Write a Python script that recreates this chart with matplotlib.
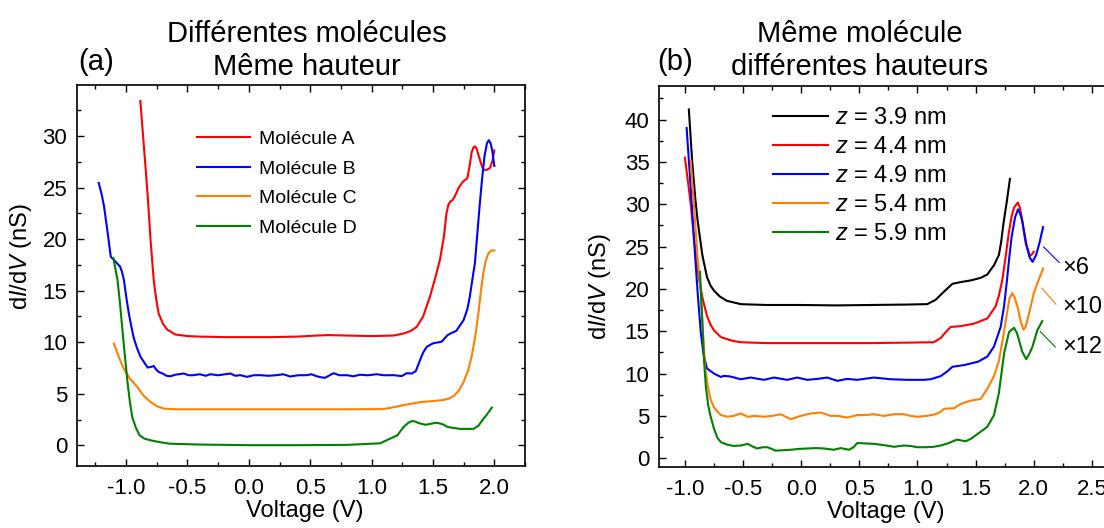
import matplotlib
matplotlib.use("Agg")
import matplotlib.pyplot as plt
from matplotlib.ticker import MultipleLocator, FormatStrFormatter

plt.rcParams['font.family'] = ['Liberation Sans', 'DejaVu Sans']
plt.rcParams['mathtext.fontset'] = 'custom'
plt.rcParams['mathtext.rm'] = 'Liberation Sans'
plt.rcParams['mathtext.it'] = 'Liberation Sans:italic'
plt.rcParams['axes.unicode_minus'] = False

# ---------------- (a) different molecules, same height ----------------
mol_labels = ["Molécule A", "Molécule B", "Molécule C", "Molécule D"]
mol_colors = ["#ff0000", "#0000ff", "#ff8000", "#008000"]

molA_v = [-0.884, -0.855, -0.824, -0.80, -0.775, -0.755, -0.735, -0.70, -0.667, -0.60,
          -0.50, -0.40, -0.20, 0.0, 0.20, 0.40, 0.55, 0.65, 0.80, 1.00, 1.18, 1.26,
          1.32, 1.368, 1.42, 1.475, 1.52, 1.557, 1.59, 1.61, 1.625, 1.638, 1.66, 1.68,
          1.71, 1.746, 1.78, 1.80, 1.815, 1.83, 1.842, 1.855, 1.87, 1.89, 1.91, 1.935,
          1.965, 1.985, 2.0]
molA_g = [33.4, 29.0, 24.2, 19.8, 16.05, 14.2, 12.8, 11.8, 11.25, 10.75,
          10.6, 10.55, 10.5, 10.5, 10.5, 10.55, 10.65, 10.7, 10.65, 10.6, 10.65, 10.85,
          11.1, 11.5, 12.5, 14.4, 16.3, 18.0, 20.3, 22.5, 23.3, 23.6, 23.8, 24.2,
          25.0, 25.6, 25.9, 27.2, 28.4, 28.9, 29.0, 28.8, 28.2, 27.4, 26.75, 26.7,
          26.9, 27.6, 28.6]

molB_v = [-1.223, -1.20, -1.18, -1.15, -1.125, -1.10, -1.07, -1.05, -1.035, -1.018,
          -1.00, -0.978, -0.955, -0.937, -0.91, -0.883, -0.85, -0.824, -0.80, -0.775,
          -0.755, -0.735, -0.70, -0.67, -0.64, -0.60, -0.531, -0.49, -0.45, -0.40,
          -0.35, -0.314, -0.25, -0.149, -0.11, -0.07, -0.016, 0.04, 0.093, 0.16,
          0.228, 0.28, 0.337, 0.40, 0.472, 0.51, 0.554, 0.59, 0.621, 0.689,
          0.74, 0.798, 0.85, 0.906, 0.97, 1.042, 1.10, 1.178, 1.246, 1.286,
          1.327, 1.36, 1.395, 1.42, 1.45, 1.50, 1.57, 1.62, 1.66, 1.69,
          1.75, 1.78, 1.80, 1.82, 1.842, 1.86, 1.88, 1.90, 1.92, 1.94,
          1.955, 1.97, 1.983, 2.0]
molB_g = [25.45, 24.4, 23.2, 20.6, 18.3, 18.0, 17.6, 17.35, 16.9, 16.05,
          14.5, 12.8, 11.4, 10.4, 9.4, 8.6, 8.0, 7.55, 7.6, 7.7,
          7.35, 7.13, 6.95, 6.75, 6.7, 6.85, 6.97, 6.8, 6.81, 6.9,
          6.75, 6.9, 6.8, 6.97, 6.75, 6.81, 6.65, 6.8, 6.81, 6.75,
          6.81, 6.9, 6.68, 6.8, 6.81, 6.9, 6.7, 6.6, 6.55, 7.0,
          6.8, 6.81, 6.7, 6.85, 6.8, 6.9, 6.8, 6.81, 6.72, 7.0,
          6.97, 7.2, 8.27, 9.0, 9.56, 9.9, 10.05, 10.7, 10.95, 11.1,
          12.16, 13.2, 14.4, 16.0, 17.7, 20.3, 23.2, 25.8, 28.05, 29.3,
          29.6, 29.3, 28.6, 27.1]

molC_v = [-1.10, -1.06, -1.02, -0.97, -0.91, -0.86, -0.80, -0.75, -0.69, -0.60,
          -0.40, 0.0, 0.40, 0.80, 1.096, 1.18, 1.26, 1.33, 1.40, 1.50,
          1.585, 1.63, 1.67, 1.71, 1.75, 1.785, 1.815, 1.845, 1.87, 1.89,
          1.91, 1.93, 1.95, 1.975, 2.0]
molC_g = [9.89, 8.6, 7.46, 6.5, 5.67, 4.85, 4.2, 3.8, 3.56, 3.5,
          3.5, 3.5, 3.5, 3.5, 3.52, 3.7, 3.9, 4.05, 4.2, 4.3,
          4.4, 4.55, 4.8, 5.3, 6.16, 7.2, 8.6, 10.6, 12.8, 14.9,
          16.7, 17.9, 18.6, 18.9, 18.9]

molD_v = [-1.104, -1.07, -1.05, -1.03, -1.01, -0.99, -0.97, -0.95, -0.92, -0.89,
          -0.85, -0.80, -0.72, -0.64, -0.40, 0.0, 0.40, 0.80, 1.07, 1.15,
          1.21, 1.26, 1.30, 1.33, 1.36, 1.38, 1.44, 1.53, 1.58, 1.62,
          1.72, 1.83, 1.87, 1.90, 1.94, 1.98]
molD_g = [18.16, 16.05, 13.8, 11.2, 8.7, 6.3, 4.3, 2.75, 1.7, 0.97,
          0.65, 0.49, 0.3, 0.16, 0.08, 0.02, 0.02, 0.05, 0.2, 0.65,
          0.97, 1.78, 2.2, 2.36, 2.3, 2.17, 2.0, 2.2, 2.05, 1.78,
          1.6, 1.6, 1.9, 2.4, 3.0, 3.66]

# ---------------- (b) same molecule, different heights ----------------
z_labels = ["$z$ = 3.9 nm", "$z$ = 4.4 nm", "$z$ = 4.9 nm", "$z$ = 5.4 nm", "$z$ = 5.9 nm"]
z_colors = ["#000000", "#ff0000", "#0000ff", "#ff8000", "#008000"]

z39_v = [-0.966, -0.937, -0.91, -0.89, -0.85, -0.81, -0.78, -0.75, -0.70, -0.64,
         -0.52, -0.30, 0.0, 0.30, 0.60, 0.90, 1.084, 1.155, 1.23, 1.30,
         1.37, 1.457, 1.543, 1.60, 1.658, 1.70, 1.72, 1.74, 1.77, 1.795]
z39_g = [41.2, 35.0, 30.6, 28.0, 24.0, 21.4, 20.4, 19.8, 19.1, 18.6,
         18.2, 18.1, 18.1, 18.05, 18.1, 18.15, 18.2, 18.7, 19.7, 20.6,
         20.8, 21.0, 21.3, 21.7, 22.8, 24.0, 25.6, 27.8, 30.5, 33.0]

z44_v = [-1.0, -0.97, -0.95, -0.92, -0.88, -0.85, -0.81, -0.78, -0.75, -0.69,
         -0.60, -0.52, -0.30, 0.0, 0.30, 0.60, 0.90, 1.14, 1.20, 1.25,
         1.285, 1.37, 1.486, 1.60, 1.67, 1.70, 1.73, 1.76, 1.785, 1.81,
         1.83, 1.863, 1.88, 1.90, 1.93, 1.967, 1.985, 2.0]
z44_g = [35.5, 32.3, 30.0, 25.8, 21.3, 19.0, 16.8, 15.8, 15.1, 14.3,
         13.9, 13.7, 13.6, 13.6, 13.6, 13.6, 13.65, 13.7, 14.2, 15.0,
         15.5, 15.6, 15.9, 16.5, 17.9, 19.2, 21.1, 24.0, 26.6, 28.6,
         29.6, 30.2, 29.6, 28.1, 25.4, 23.9, 24.1, 24.4]

z49_v = [-0.985, -0.95, -0.92, -0.89, -0.864, -0.84, -0.81, -0.75, -0.69, -0.665,
         -0.607, -0.521, -0.435, -0.32, -0.234, -0.12, -0.034, 0.052, 0.139, 0.224,
         0.31, 0.396, 0.482, 0.625, 0.769, 0.912, 1.055, 1.113, 1.20, 1.26,
         1.30, 1.40, 1.52, 1.60, 1.658, 1.715, 1.745, 1.77, 1.79, 1.81,
         1.84, 1.865, 1.88, 1.90, 1.92, 1.94, 1.965, 1.99, 2.02, 2.05,
         2.08]
z49_g = [39.0, 32.0, 25.5, 19.5, 15.0, 12.3, 10.6, 10.0, 9.6, 9.73,
         9.65, 9.33, 9.53, 9.26, 9.53, 9.26, 9.53, 9.26, 9.37, 9.53,
         9.14, 9.37, 9.26, 9.53, 9.33, 9.26, 9.26, 9.33, 9.7, 10.3,
         10.8, 11.0, 11.4, 12.0, 13.2, 15.5, 18.0, 21.1, 23.8, 26.2,
         28.5, 29.4, 29.0, 28.1, 26.5, 25.0, 23.7, 23.2, 24.0, 25.5,
         27.3]

z54_v = [-0.95, -0.92, -0.89, -0.865, -0.845, -0.825, -0.80, -0.78, -0.75, -0.72,
         -0.69, -0.636, -0.58, -0.52, -0.46, -0.40, -0.32, -0.25, -0.176, -0.09,
         -0.03, 0.024, 0.09, 0.167, 0.253, 0.32, 0.396, 0.483, 0.55, 0.625,
         0.71, 0.80, 0.88, 0.94, 1.0, 1.08, 1.155, 1.20, 1.23, 1.314,
         1.37, 1.457, 1.543, 1.60, 1.658, 1.70, 1.73, 1.76, 1.79, 1.815,
         1.835, 1.86, 1.885, 1.91, 1.93, 1.95, 1.98, 2.0, 2.04, 2.08]
z54_g = [35.2, 29.5, 23.5, 20.0, 15.0, 10.5, 8.3, 7.0, 6.0, 5.5,
         5.1, 4.9, 5.0, 5.3, 4.9, 5.0, 4.9, 5.0, 5.2, 4.6,
         4.9, 5.1, 5.3, 5.4, 5.0, 5.0, 4.8, 5.1, 5.1, 5.2,
         5.0, 5.2, 5.2, 5.0, 4.9, 5.0, 5.2, 5.5, 5.85, 5.9,
         6.4, 6.8, 7.0, 8.2, 9.7, 11.5, 13.8, 16.3, 18.8, 19.5,
         19.0, 17.9, 16.3, 15.2, 15.5, 16.6, 18.3, 19.5, 21.0, 22.4]

z59_v = [-0.87, -0.85, -0.835, -0.82, -0.80, -0.78, -0.75, -0.72, -0.69, -0.636,
         -0.58, -0.52, -0.46, -0.42, -0.38, -0.33, -0.29, -0.22, -0.15, -0.09,
         -0.02, 0.052, 0.13, 0.196, 0.28, 0.34, 0.41, 0.45, 0.483, 0.55,
         0.625, 0.71, 0.80, 0.88, 0.94, 1.0, 1.07, 1.14, 1.20, 1.26,
         1.34, 1.414, 1.46, 1.52, 1.60, 1.658, 1.70, 1.745, 1.787, 1.83,
         1.855, 1.874, 1.90, 1.935, 1.96, 1.987, 2.03, 2.073]
z59_g = [22.0, 16.0, 11.5, 8.5, 6.3, 5.0, 3.5, 2.4, 1.9, 1.6,
         1.45, 1.5, 1.7, 1.4, 1.15, 1.3, 1.3, 0.9, 0.95, 1.0,
         1.1, 1.15, 1.2, 1.15, 1.0, 1.2, 1.0, 1.3, 1.8, 1.75,
         1.7, 1.55, 1.35, 1.5, 1.45, 1.3, 1.3, 1.35, 1.5, 1.75,
         2.2, 2.0, 2.3, 2.9, 3.7, 5.1, 7.7, 12.4, 14.9, 15.4,
         14.8, 13.9, 12.6, 11.7, 12.3, 13.1, 15.1, 16.2]

# Scale-factor labels with their leader lines (V, nS)
scale_texts = ["×6", "×10", "×12"]
scale_colors = ["#0000ff", "#ff8000", "#008000"]
scale_text_v = [2.245, 2.245, 2.245]
scale_text_g = [22.46, 17.9, 13.14]
leader_v0 = [2.085, 2.068, 2.056]
leader_g0 = [24.95, 20.1, 14.96]
leader_v1 = [2.218, 2.19, 2.185]
leader_g1 = [23.14, 18.2, 13.14]

W, H = 1104, 528
fig = plt.figure(figsize=(W / 100, H / 100), dpi=100)
ax_a = fig.add_axes([77 / W, 62 / H, 448 / W, 381 / H])
ax_b = fig.add_axes([659.3 / W, 61.3 / H, 461.7 / W, 381 / H])

LW = 1.5
TICK_FS = 16
LABEL_FS = 17


def style_axes(ax):
    ax.tick_params(which='both', direction='in', top=True, right=True,
                   labelsize=TICK_FS, width=1.0, pad=7)
    ax.tick_params(which='major', length=5)
    ax.tick_params(which='minor', length=3)
    ax.tick_params(axis='x', which='major', pad=9)
    for s in ax.spines.values():
        s.set_linewidth(1.2)
    ax.xaxis.set_major_locator(MultipleLocator(0.5))
    ax.xaxis.set_minor_locator(MultipleLocator(0.25))
    ax.xaxis.set_major_formatter(FormatStrFormatter('%.1f'))
    ax.yaxis.set_major_locator(MultipleLocator(5))
    ax.yaxis.set_minor_locator(MultipleLocator(2.5))
    ax.set_xlabel("Voltage (V)", fontsize=LABEL_FS)
    ax.set_ylabel("d$I$/d$V$ (nS)", fontsize=LABEL_FS)


# panel (a)
for v, g, lab, col in zip([molA_v, molB_v, molC_v, molD_v],
                          [molA_g, molB_g, molC_g, molD_g],
                          mol_labels, mol_colors):
    ax_a.plot(v, g, color=col, lw=LW, label=lab)
ax_a.set_xlim(-1.4, 2.25)
ax_a.set_ylim(-2, 34.95)
style_axes(ax_a)
ax_a.xaxis.set_label_coords(0.508, -0.09)
ax_a.yaxis.set_label_coords(-0.095, 0.55)
ax_a.legend(frameon=False, fontsize=14, handlelength=2.73, handletextpad=0.5,
            labelspacing=0.62, loc='upper left', bbox_to_anchor=(0.267, 0.881),
            borderaxespad=0, borderpad=0)

# panel (b)
for v, g, lab, col in zip([z39_v, z44_v, z49_v, z54_v, z59_v],
                          [z39_g, z44_g, z49_g, z54_g, z59_g],
                          z_labels, z_colors):
    ax_b.plot(v, g, color=col, lw=LW, label=lab)
ax_b.set_xlim(-1.22, 2.75)
ax_b.set_ylim(-1, 44)
style_axes(ax_b)
ax_b.xaxis.set_label_coords(0.491, -0.09)
ax_b.yaxis.set_label_coords(-0.100, 0.472)
ax_b.legend(frameon=False, fontsize=17, handlelength=2.33, handletextpad=0.3,
            labelspacing=0.29, loc='upper left', bbox_to_anchor=(0.246, 0.943),
            borderaxespad=0, borderpad=0)

for txt, col, tv, tg, v0, g0, v1, g1 in zip(scale_texts, scale_colors,
                                            scale_text_v, scale_text_g,
                                            leader_v0, leader_g0, leader_v1, leader_g1):
    ax_b.plot([v0, v1], [g0, g1], color=col, lw=0.8)
    ax_b.text(tv, tg, txt, fontsize=17, ha='left', va='center')

# panel titles and letters
TITLE_FS = 21
fig.text(307 / W, 1 - 42 / H, "Différentes molécules", fontsize=TITLE_FS, ha='center', va='baseline')
fig.text(307 / W, 1 - 75 / H, "Même hauteur", fontsize=TITLE_FS, ha='center', va='baseline')
fig.text(78 / W, 1 - 70 / H, "(a)", fontsize=TITLE_FS, ha='left', va='baseline')
fig.text(860 / W, 1 - 42 / H, "Même molécule", fontsize=TITLE_FS, ha='center', va='baseline')
fig.text(860 / W, 1 - 75 / H, "différentes hauteurs", fontsize=TITLE_FS, ha='center', va='baseline')
fig.text(657 / W, 1 - 70 / H, "(b)", fontsize=TITLE_FS, ha='left', va='baseline')

fig.savefig("out.png", dpi=100)
